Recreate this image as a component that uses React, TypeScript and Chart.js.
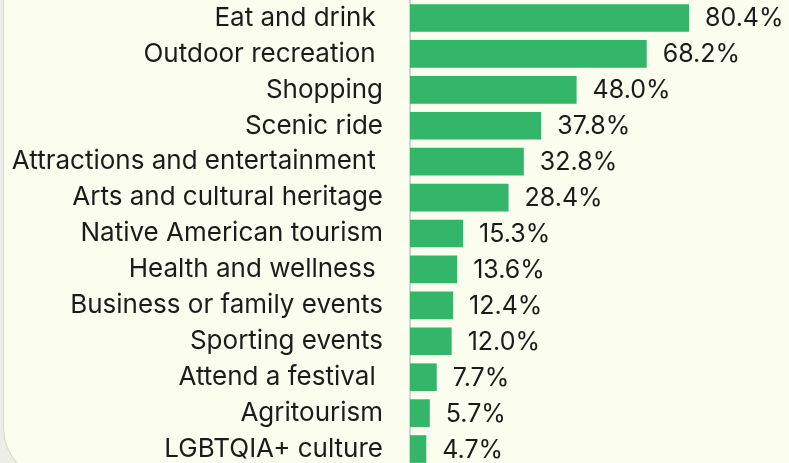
import React, { useEffect, useRef } from "react";
import { Chart, registerables } from "chart.js";

Chart.register(...registerables);

const categories = [
  "Eat and drink ",
  "Outdoor recreation ",
  "Shopping",
  "Scenic ride",
  "Attractions and entertainment ",
  "Arts and cultural heritage",
  "Native American tourism",
  "Health and wellness ",
  "Business or family events",
  "Sporting events",
  "Attend a festival ",
  "Agritourism",
  "LGBTQIA+ culture",
];

const shares = [80.4, 68.2, 48.0, 37.8, 32.8, 28.4, 15.3, 13.6, 12.4, 12.0, 7.7, 5.7, 4.7];

const valueLabels = shares.map((v) => v.toFixed(1) + "%");

const BAR_COLOR = "#33b56a";
const TEXT_COLOR = "#1b1b1b";
const LABEL_FONT = "Inter";

const valueLabelPlugin = {
  id: "valueLabels",
  afterDatasetsDraw(chart: any) {
    const { ctx } = chart;
    const meta = chart.getDatasetMeta(0);
    ctx.save();
    ctx.font = `400 25px ${LABEL_FONT}`;
    ctx.fillStyle = TEXT_COLOR;
    ctx.textAlign = "left";
    ctx.textBaseline = "middle";
    meta.data.forEach((bar: any, i: number) => {
      ctx.fillText(valueLabels[i], bar.x + 16, bar.y + 1);
    });
    ctx.restore();
  },
};

export default function App() {
  const canvasRef = useRef<HTMLCanvasElement | null>(null);

  useEffect(() => {
    if (!canvasRef.current) return;
    const chart = new Chart(canvasRef.current, {
      type: "bar",
      data: {
        labels: categories,
        datasets: [
          {
            data: shares,
            backgroundColor: BAR_COLOR,
            borderWidth: 0,
            categoryPercentage: 1,
            barPercentage: 0.77,
          },
        ],
      },
      options: {
        indexAxis: "y",
        responsive: false,
        animation: false,
        layout: { padding: { top: 0, bottom: 0, left: 0, right: 0 } },
        plugins: {
          legend: { display: false },
          tooltip: { enabled: false },
        },
        scales: {
          x: {
            display: false,
            min: 0,
            max: 109.2,
          },
          y: {
            afterFit(scale: any) {
              scale.width = 410;
              scale.paddingTop = 0;
              scale.paddingBottom = 0;
            },
            grid: { display: false, drawTicks: false },
            border: { display: true, color: "#d3d3d0", width: 2 },
            ticks: {
              padding: 27,
              color: TEXT_COLOR,
              font: { family: LABEL_FONT, size: 26 },
              autoSkip: false,
            },
          },
        },
      },
      plugins: [valueLabelPlugin],
    });
    return () => chart.destroy();
  }, []);

  return (
    <div
      style={{
        position: "fixed",
        left: 0,
        top: 0,
        width: 789,
        height: 463,
        overflow: "hidden",
        background: "#ecede6",
      }}
    >
      <div
        style={{
          position: "absolute",
          left: 3,
          top: -60,
          width: 860,
          height: 540,
          boxSizing: "border-box",
          border: "1px solid #d6d8c9",
          borderRadius: 52,
          background: "#fbfdee",
        }}
      />
      <canvas
        ref={canvasRef}
        width={789}
        height={467}
        style={{ position: "absolute", left: 0, top: 0, width: 789, height: 467 }}
      />
    </div>
  );
}
